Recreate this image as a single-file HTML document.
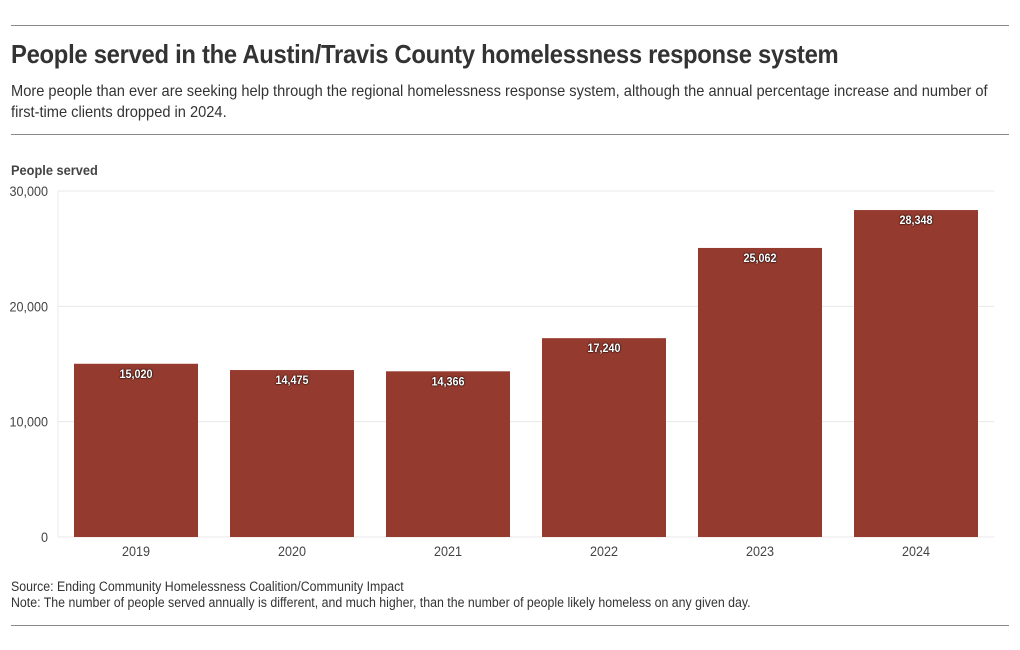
<!DOCTYPE html>
<html><head><meta charset="utf-8"><style>
body{margin:0;width:1020px;height:650px;background:#fff;font-family:"Liberation Sans Narrow","Liberation Sans",sans-serif;color:#333;position:relative;overflow:hidden}
.rule{position:absolute;left:11px;width:998px;height:1px;background:#888}
.sq{transform:scaleX(0.915);transform-origin:0 0}
#title{position:absolute;left:11px;top:39px;font-size:26px;font-weight:bold;color:#333;letter-spacing:-0.3px;white-space:nowrap}
#sub{position:absolute;left:11px;top:81px;width:1092px;font-size:16px;line-height:21px;color:#333}
#foot{position:absolute;left:11px;top:579px;font-size:13.5px;line-height:16px;color:#333;white-space:nowrap}
svg{position:absolute;left:0;top:0}
</style></head><body>
<div class="rule" style="top:25px"></div>
<div id="title" class="sq">People served in the Austin/Travis County homelessness response system</div>
<div id="sub" class="sq">More people than ever are seeking help through the regional homelessness response system, although the annual percentage increase and number of first-time clients dropped in 2024.</div>
<div class="rule" style="top:134px"></div>
<svg width="1020" height="650" id="chart">
<text x="11" y="175" font-size="14" font-weight="bold" fill="#444" transform="translate(11 0) scale(0.915 1) translate(-11 0)">People served</text>
<g id="grid"></g><g id="bars"></g>
</svg>
<div id="foot" class="sq">Source: Ending Community Homelessness Coalition/Community Impact<br>Note: The number of people served annually is different, and much higher, than the number of people likely homeless on any given day.</div>
<div class="rule" style="top:625px"></div>
<script>
const categories=["2019","2020","2021","2022","2023","2024"];
const values=[15020,14475,14366,17240,25062,28348];
const yTicks=[0,10000,20000,30000];
const NS="http://www.w3.org/2000/svg";
const x0=58,x1=994,yb=537,yt=191,yMax=30000;
const y=v=>yb-(v/yMax)*(yb-yt);
const band=(x1-x0)/categories.length,pad=16;
const fmt=v=>v.toLocaleString("en-US");
function mk(t,a,p){const e=document.createElementNS(NS,t);for(const k in a)e.setAttribute(k,a[k]);p.appendChild(e);return e;}
const g=document.getElementById("grid"),b=document.getElementById("bars");
yTicks.forEach(t=>{
 const l=mk("line",{x1:x0,x2:x1,y1:y(t),y2:y(t),stroke:"#e8e8e8","stroke-width":1},g);
 
 
 const tx=mk("text",{x:48,y:y(t)+5,"text-anchor":"end","font-size":14,fill:"#444",textLength:"",},g);
 tx.removeAttribute("textLength");
 tx.setAttribute("transform","translate(48 0) scale(0.9 1) translate(-48 0)");
 tx.textContent=fmt(t);
 
 
});
const ax=mk("line",{x1:x0,x2:x0,y1:yt,y2:yb,stroke:"#e8e8e8"},g);


categories.forEach((c,i)=>{
 const bx=x0+i*band+pad,bw=band-2*pad,cx=bx+bw/2;
 const r=mk("rect",{x:bx,y:y(values[i]),width:bw,height:yb-y(values[i]),fill:"#943a2e"},b);
 
 
 const lb=mk("text",{x:cx,y:y(values[i])+14,"text-anchor":"middle","font-size":12,"font-weight":"bold",fill:"#fff",transform:`translate(${cx} 0) scale(0.9 1) translate(${-cx} 0)`,style:"text-shadow:0 0 2px #000,0 0 1px #000"},b);
 lb.textContent=fmt(values[i]);
 
 
 const xl=mk("text",{x:cx,y:yb+19,"text-anchor":"middle","font-size":14,fill:"#444",transform:`translate(${cx} 0) scale(0.9 1) translate(${-cx} 0)`},b);
 xl.textContent=c;
 
 
});
</script>
</body></html>
